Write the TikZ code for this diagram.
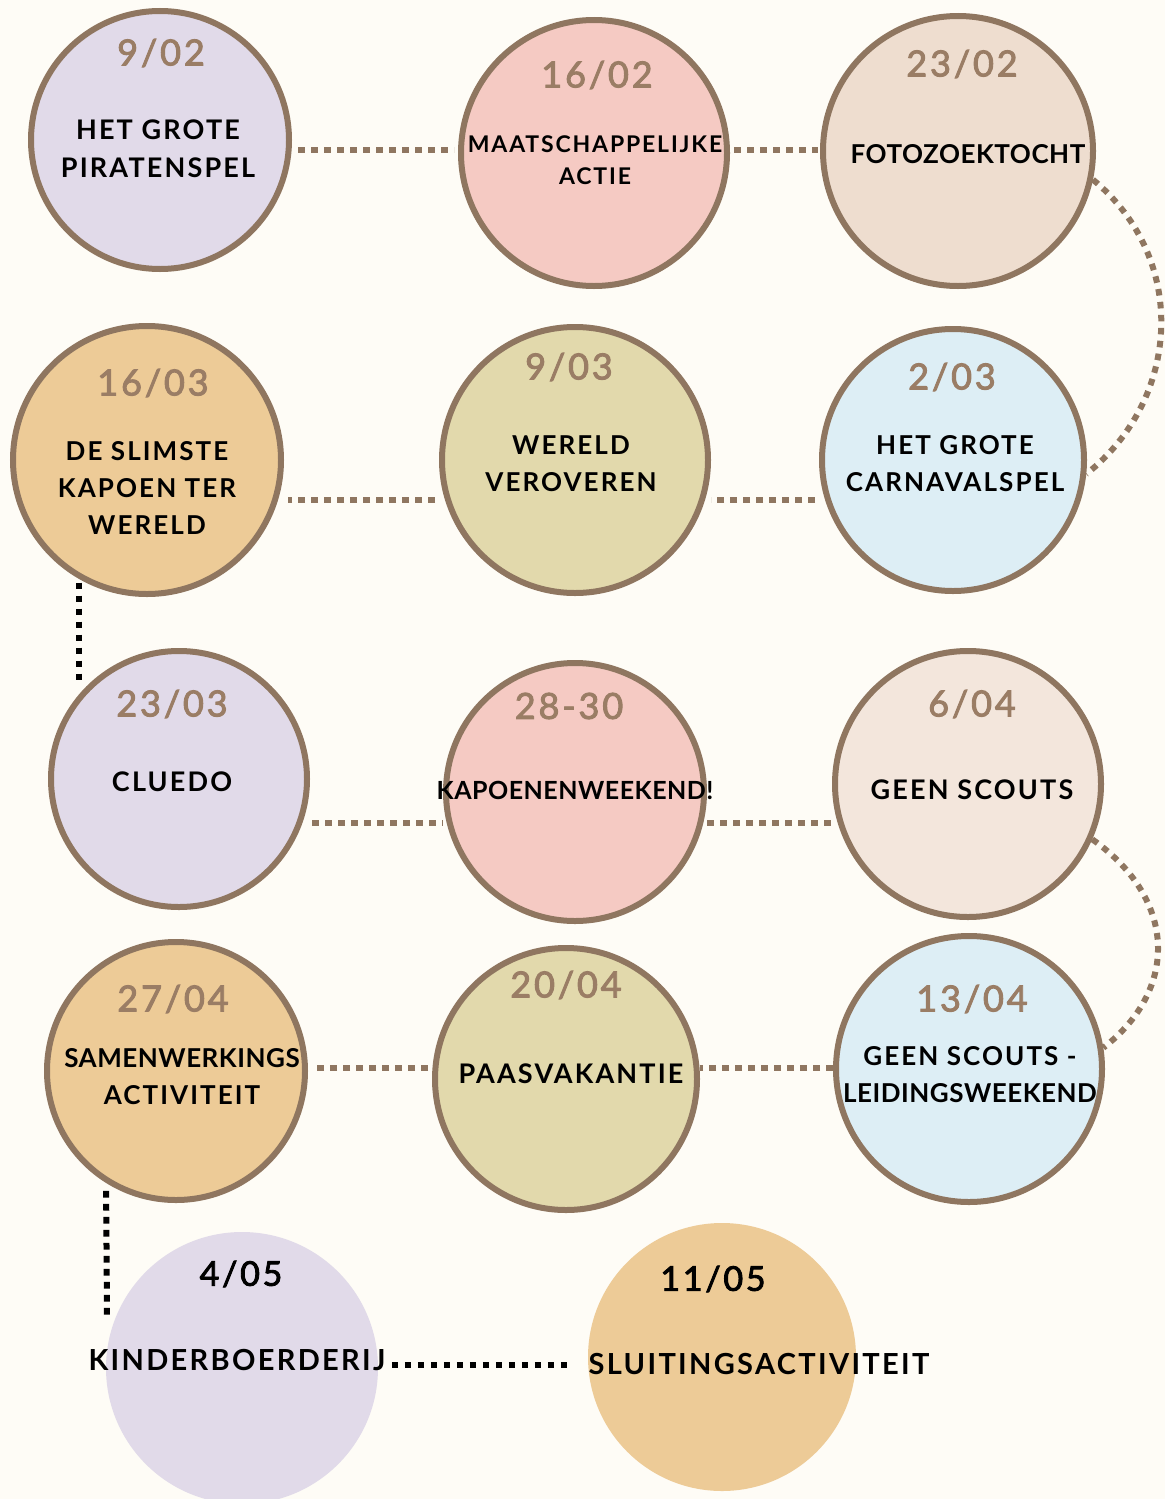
\documentclass[tikz,border=0pt]{standalone}
\usepackage{fontspec}
\setmainfont{Lato}[LetterSpace=8]
\newfontfamily\tightfont{Lato}[LetterSpace=2]
\newfontfamily\datefont{Lato}[LetterSpace=8, FakeBold=2.6]
\definecolor{paper}{HTML}{FEFCF6}
\definecolor{rim}{HTML}{8F7660}
\definecolor{datebrown}{HTML}{9A7D65}
\definecolor{lilac}{HTML}{E1DAE9}
\definecolor{blush}{HTML}{F5CAC3}
\definecolor{sand}{HTML}{EEDDCF}
\definecolor{apricot}{HTML}{EDCB97}
\definecolor{olive}{HTML}{E2D9AC}
\definecolor{sky}{HTML}{DDEEF5}
\definecolor{cream}{HTML}{F3E6DC}
\tikzset{
        day/.style={circle, draw=rim, line width=3pt, inner sep=0pt, minimum size=#1*1pt-3pt},
        plainday/.style={circle, inner sep=0pt, minimum size=#1*1pt},
        datum/.style={text=datebrown, font=\datefont\fontsize{18}{18}\selectfont},
        blackdatum/.style={text=black, font=\datefont\fontsize{17}{17}\selectfont},
        what/.style={font=\bfseries\fontsize{13.5}{19}\selectfont, align=center, inner sep=0pt},
        smallwhat/.style={what, font=\bfseries\fontsize{13}{18.5}\selectfont},
        bigwhat/.style={what, font=\bfseries\fontsize{14.5}{19}\selectfont},
        browndots/.style={draw=rim, line width=3pt, dash pattern=on 3.3pt off 3.2pt},
        blackdots/.style={draw=black, line width=3pt, dash pattern=on 3.3pt off 3.2pt}
          }
\begin{document}
\begin{tikzpicture}[x=0.5pt, y=-0.5pt]
        \fill[paper] (0,0) rectangle (1165,1499);
        \useasboundingbox (0,0) rectangle (1165,1499);
        \clip (0,0) rectangle (1165,1499);
        % row coordinates for the connectors
        \coordinate (row1) at (0,150);
        \coordinate (row2) at (0,500);
        \coordinate (row3) at (0,823);
        \coordinate (row4) at (0,1068);
        \coordinate (row5) at (0,1365);
        \coordinate (k) at (107,1315);

        % circles
        \node[day=132, fill=lilac] (c1) at (160,140) {};
        \node[day=136, fill=blush] (c2) at (594,153) {};
        \node[day=138, fill=sand] (c3) at (958,151) {};
        \node[day=137, fill=apricot] (c4) at (147,460) {};
        \node[day=136, fill=olive] (c5) at (575,460) {};
        \node[day=134, fill=sky] (c6) at (953,460) {};
        \node[day=131, fill=lilac] (c7) at (179,779) {};
        \node[day=132, fill=blush] (c8) at (575,792) {};
        \node[day=136, fill=cream] (c9) at (968,784) {};
        \node[day=132, fill=apricot] (c10) at (176,1071) {};
        \node[day=134, fill=olive] (c11) at (566,1079) {};
        \node[day=136, fill=sky] (c12) at (969,1069) {};
        \node[plainday=136, fill=lilac] (c13) at (242,1368) {};
        \node[plainday=134, fill=apricot] (c14) at (722,1357) {};

        % dates
        \node[datum] (d1) at (161,53) {9/02};
        \node[datum] (d2) at (597,75) {16/02};
        \node[datum] (d3) at (962,64) {23/02};
        \node[datum] (d4) at (153,383) {16/03};
        \node[datum] (d5) at (569,367) {9/03};
        \node[datum] (d6) at (952,377) {2/03};
        \node[datum] (d7) at (172,704) {23/03};
        \node[datum] (d8) at (569,706) {28-30};
        \node[datum] (d9) at (972,704) {6/04};
        \node[datum] (d10) at (173,999) {27/04};
        \node[datum] (d11) at (566,985) {20/04};
        \node[datum] (d12) at (972,999) {13/04};
        \node[blackdatum] (d13) at (241,1274) {4/05};
        \node[blackdatum] (d14) at (713,1279) {11/05};

        % activities
        \node[what] (t1) at (158,149) {HET GROTE\\PIRATENSPEL};
        \node[what, font=\bfseries\fontsize{11.5}{16}\selectfont] (t2) at (595,160) {MAATSCHAPPELIJKE\\ACTIE};
        \node[what, font=\bfseries\tightfont\fontsize{13}{19}\selectfont] (t3) at (968,154) {FOTOZOEKTOCHT};
        \node[smallwhat] (t4) at (147,488) {DE SLIMSTE\\KAPOEN TER\\WERELD};
        \node[smallwhat] (t5) at (571,464) {WERELD\\VEROVEREN};
        \node[smallwhat] (t6) at (955,464) {HET GROTE\\CARNAVALSPEL};
        \node[what] (t7) at (172,782) {CLUEDO};
        \node[what, font=\bfseries\tightfont\fontsize{12.5}{19}\selectfont] (t8) at (575,790) {KAPOENENWEEKEND!};
        \node[what] (t9) at (972,790) {GEEN SCOUTS};
        \node[smallwhat] (t10) at (182,1077) {{\tightfont SAMENWERKINGS}\\ACTIVITEIT};
        \node[what] (t11) at (571,1074) {PAASVAKANTIE};
        \node[smallwhat] (t12) at (970,1075) {GEEN SCOUTS -\\{\tightfont LEIDINGSWEEKEND}};
        \node[bigwhat] (t13) at (237,1360) {KINDERBOERDERIJ};
        \node[bigwhat] (t14) at (759,1364) {SLUITINGSACTIVITEIT};

        % connectors
        \draw[browndots, shorten <=3pt, shorten >=2pt] (c1.east |- row1) -- (c2.west |- row1);
        \draw[browndots, shorten <=2pt, shorten >=1pt] (c2.east |- row1) -- (c3.west |- row1);
        \draw[browndots] (c3.-12) .. controls (1190,260) and (1180,400) .. (c6.-6);
        \draw[browndots, shorten <=2pt] (c6.west |- row2) -- (c5.east |- row2);
        \draw[browndots, shorten <=2pt, shorten >=2pt] (c5.west |- row2) -- (c4.east |- row2);
        \draw[blackdots, shorten <=2pt, shorten >=5pt] (c4.-120) -- (c4.-120 |- c7.140);
        \draw[browndots, shorten <=1pt] (c7.east |- row3) -- (c8.west |- row3);
        \draw[browndots] (c8.east |- row3) -- (c9.west |- row3);
        \draw[browndots] (c9.-24) .. controls (1178,900) and (1178,990) .. (c12.9);
        \draw[browndots] (c12.west |- row4) -- (c11.east |- row4);
        \draw[browndots, shorten <=2pt, shorten >=2pt] (c11.west |- row4) -- (c10.east |- row4);
        \draw[blackdots, shorten <=4pt] (c10.-122) -- (k);
        \draw[blackdots, shorten <=3pt, shorten >=8pt] (t13.east |- row5) -- (t14.west |- row5);
\end{tikzpicture}
\end{document}
